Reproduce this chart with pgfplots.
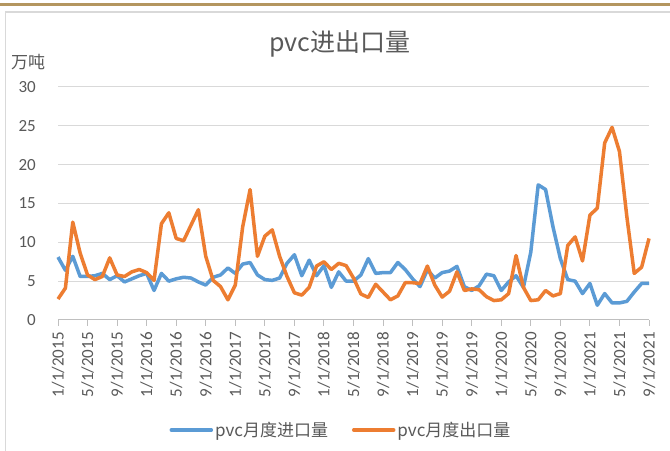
\documentclass[border=0pt]{standalone}
\usepackage{pgfplots}
\usepackage{pgfplotstable}
\pgfplotsset{compat=1.18}
\usepackage{fontspec}
\setmainfont{Carlito}
\newfontfamily\cjk{Noto Sans CJK SC}
\definecolor{txtgray}{RGB}{89,89,89}
\definecolor{gridgray}{RGB}{217,217,217}
\definecolor{axgray}{RGB}{191,191,191}
\definecolor{pvcblue}{RGB}{91,155,213}
\definecolor{pvcorange}{RGB}{237,125,49}
\definecolor{tan}{RGB}{180,150,95}
\definecolor{bordergray}{RGB}{217,217,217}

\pgfplotstableread{
i imp exp
0 8.1 2.7
1 6.4 4.1
2 8.2 12.6
3 5.6 8.6
4 5.6 5.8
5 5.7 5.2
6 6.0 5.6
7 5.2 8.0
8 5.7 5.8
9 4.9 5.6
10 5.3 6.2
11 5.7 6.5
12 6.0 6.1
13 3.8 5.1
14 6.0 12.4
15 5.0 13.8
16 5.3 10.5
17 5.5 10.2
18 5.4 12.2
19 4.9 14.2
20 4.5 8.2
21 5.5 5.1
22 5.8 4.3
23 6.7 2.6
24 6.0 4.5
25 7.2 12.0
26 7.4 16.8
27 5.8 8.2
28 5.2 10.8
29 5.1 11.6
30 5.4 8.2
31 7.3 5.6
32 8.4 3.5
33 5.7 3.2
34 7.7 4.2
35 5.7 6.95
36 7.0 7.5
37 4.2 6.5
38 6.2 7.3
39 5.0 7.0
40 5.0 5.4
41 5.8 3.35
42 7.9 2.9
43 6.0 4.6
44 6.1 3.6
45 6.1 2.6
46 7.4 3.1
47 6.5 4.8
48 5.3 4.8
49 4.3 4.7
50 6.45 6.95
51 5.4 4.5
52 6.1 2.95
53 6.3 3.7
54 6.9 6.2
55 4.3 3.8
56 3.8 4.0
57 4.4 3.9
58 5.9 3.0
59 5.7 2.5
60 3.8 2.6
61 4.9 3.4
62 5.7 8.3
63 4.2 4.2
64 8.75 2.5
65 17.4 2.6
66 16.8 3.8
67 12.0 3.1
68 7.9 3.4
69 5.2 9.6
70 5.0 10.7
71 3.4 7.6
72 4.7 13.5
73 1.9 14.4
74 3.4 22.8
75 2.2 24.8
76 2.2 21.7
77 2.4 13.3
78 3.6 6.0
79 4.7 6.8
80 4.7 10.5
}\pvcdata

\begin{document}
\begin{tikzpicture}[x=1bp,y=1bp]
\useasboundingbox (0,0) rectangle (670,451);
\fill[white] (0,0) rectangle (670,451);
\fill[tan] (0,445) rectangle (670,447.5);
\draw[bordergray, line width=1.2bp] (5.5,-5) -- (5.5,439) -- (680,439);
\node[font=\cjk\fontsize{25bp}{28bp}\selectfont, text=txtgray] at (340,407) {pvc进出口量};
\node[font=\cjk\fontsize{17bp}{20bp}\selectfont, text=txtgray, anchor=west, inner sep=0pt] at (11,389) {万吨};
\begin{axis}[
  at={(58bp,131bp)}, anchor=south west,
  scale only axis, width=591bp, height=233bp,
  xmin=0, xmax=80, ymin=0, ymax=30,
  xtick={0,4,...,80},
  xticklabels={1/1/2015,5/1/2015,9/1/2015,1/1/2016,5/1/2016,9/1/2016,1/1/2017,5/1/2017,9/1/2017,1/1/2018,5/1/2018,9/1/2018,1/1/2019,5/1/2019,9/1/2019,1/1/2020,5/1/2020,9/1/2020,1/1/2021,5/1/2021,9/1/2021},
  ytick={0,5,...,30},
  axis x line*=bottom,
  axis y line*=left,
  y axis line style={draw=none},
  x axis line style={axgray, line width=1bp, -},
  ymajorgrids, grid style={gridgray, line width=1bp},
  tick align=outside,
  xtick style={axgray, line width=1bp},
  major tick length=6bp,
  ytick style={draw=none},
  xticklabel style={rotate=90, anchor=east, font=\fontsize{17bp}{20bp}\selectfont, text=txtgray, inner sep=0pt, xshift=-6bp},
  yticklabel style={font=\fontsize{17bp}{20bp}\selectfont, text=txtgray, anchor=east, inner sep=0pt, xshift=-16bp},
  /pgf/number format/assume math mode=true,
  legend columns=2,
  legend style={at={(0.4788,-0.4721)}, anchor=center, draw=none, fill=none,
    font=\cjk\fontsize{17bp}{20bp}\selectfont, text=txtgray,
    /tikz/every even column/.append style={column sep=22bp}},
  legend cell align=left,
  legend image code/.code={\draw[#1, line cap=round] (0bp,0bp) -- (40bp,0bp);},
  clip=false,
]
\addplot[pvcblue, line width=3.5bp, line join=round] table[x=i, y=imp] {\pvcdata};
\addlegendentry{pvc月度进口量}
\addplot[pvcorange, line width=3.5bp, line join=round] table[x=i, y=exp] {\pvcdata};
\addlegendentry{pvc月度出口量}
\end{axis}
\end{tikzpicture}
\end{document}
